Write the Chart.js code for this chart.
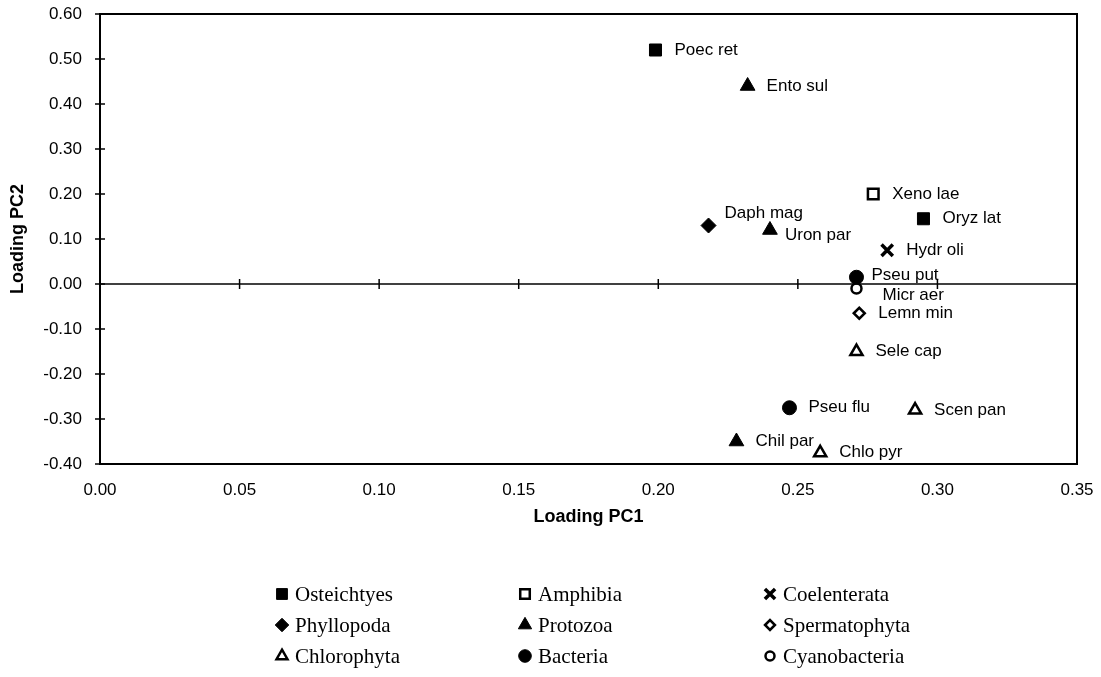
<!DOCTYPE html>
<html>
<head>
<meta charset="utf-8">
<script src="https://cdn.jsdelivr.net/npm/chart.js@4.4.1/dist/chart.umd.min.js"></script>
<style>
  body { margin: 0; background: #fff; }
  #wrap { width: 1101px; height: 677px; }
</style>
</head>
<body>
<div id="wrap"><canvas id="pcaChart" width="1101" height="677"></canvas></div>
<script>
// loadings, one entry per species
const species = ['Poec ret', 'Ento sul', 'Xeno lae', 'Oryz lat', 'Daph mag', 'Uron par', 'Hydr oli', 'Pseu put',
                 'Micr aer', 'Lemn min', 'Sele cap', 'Pseu flu', 'Scen pan', 'Chil par', 'Chlo pyr'];
const pc1 = [0.199, 0.232, 0.277, 0.295, 0.218, 0.240, 0.282, 0.271,
             0.271, 0.272, 0.271, 0.247, 0.292, 0.228, 0.258];
const pc2 = [0.52, 0.44, 0.20, 0.145, 0.13, 0.12, 0.075, 0.015,
             -0.01, -0.065, -0.15, -0.275, -0.28, -0.35, -0.375];
const taxon = ['Osteichtyes', 'Protozoa', 'Amphibia', 'Osteichtyes', 'Phyllopoda', 'Protozoa', 'Coelenterata', 'Bacteria',
               'Cyanobacteria', 'Spermatophyta', 'Chlorophyta', 'Bacteria', 'Chlorophyta', 'Protozoa', 'Chlorophyta'];

// legend order, three columns read row by row
const groups = ['Osteichtyes', 'Amphibia', 'Coelenterata',
                'Phyllopoda', 'Protozoa', 'Spermatophyta',
                'Chlorophyta', 'Bacteria', 'Cyanobacteria'];

const xMin = 0, xMax = 0.35, xStep = 0.05;
const yMin = -0.4, yMax = 0.6, yStep = 0.1;

// marker look per group
const markers = {
    Osteichtyes:   { style: 'rect',     radius: 8.5, fill: '#000', width: 1 },
    Amphibia:      { style: 'rect',     radius: 7.5, fill: '#fff', width: 2.5 },
    Coelenterata:  { style: 'crossRot', radius: 8,   fill: '#000', width: 3.5 },
    Phyllopoda:    { style: 'rectRot',  radius: 7.5, fill: '#000', width: 1 },
    Protozoa:      { style: 'triangle', radius: 8.5, fill: '#000', width: 1 },
    Spermatophyta: { style: 'rectRot',  radius: 5.5, fill: '#fff', width: 2.5 },
    Chlorophyta:   { style: 'triangle', radius: 7,   fill: '#fff', width: 2.5 },
    Bacteria:      { style: 'circle',   radius: 7,   fill: '#000', width: 1 },
    Cyanobacteria: { style: 'circle',   radius: 5,   fill: '#fff', width: 2.5 }
};

// small label nudges where the original moved a label off its point
const labelNudge = {
    'Daph mag': [-3, -12],
    'Uron par': [-4, 5],
    'Pseu put': [-4, -2],
    'Micr aer': [7, 7]
};

const sans = '"Liberation Sans", Arial, Helvetica, sans-serif';
const serif = '"Liberation Serif", "Times New Roman", serif';

function buildDatasets() {
    return groups.map(g => {
        const idx = species.map((s, i) => i).filter(i => taxon[i] === g);
        const m = markers[g];
        return {
            label: g,
            data: idx.map(i => ({ x: pc1[i], y: pc2[i] })),
            names: idx.map(i => species[i]),
            pointStyle: m.style,
            pointRadius: m.radius,
            pointHoverRadius: m.radius,
            backgroundColor: m.fill,
            borderColor: '#000',
            borderWidth: m.width,
            showLine: false
        };
    });
}

function line(ctx, x1, y1, x2, y2) {
    ctx.beginPath();
    ctx.moveTo(x1, y1);
    ctx.lineTo(x2, y2);
    ctx.stroke();
}

// box round the plot, crossing ticks on the left axis, zero line with its own ticks
const frameAndZero = {
    id: 'frameAndZero',
    beforeDatasetsDraw(chart) {
        const { ctx, chartArea: a, scales: { x, y } } = chart;
        ctx.save();
        ctx.strokeStyle = '#000';
        ctx.lineWidth = 2;
        ctx.strokeRect(a.left, a.top, a.right - a.left, a.bottom - a.top);
        ctx.lineWidth = 1.5;
        y.ticks.forEach(t => {
            const py = y.getPixelForValue(t.value);
            line(ctx, a.left - 5, py, a.left + 5, py);
        });
        const y0 = y.getPixelForValue(0);
        line(ctx, a.left, y0, a.right, y0);
        x.ticks.forEach(t => {
            if (t.value > xMin + 1e-9 && t.value < xMax - 1e-9) {
                const px = x.getPixelForValue(t.value);
                line(ctx, px, y0 - 5, px, y0 + 5);
            }
        });
        ctx.restore();
    }
};

// species names next to their points
const pointLabels = {
    id: 'pointLabels',
    afterDatasetsDraw(chart) {
        const ctx = chart.ctx;
        ctx.save();
        ctx.font = '17px ' + sans;
        ctx.fillStyle = '#000';
        ctx.textBaseline = 'middle';
        chart.data.datasets.forEach((ds, i) => {
            chart.getDatasetMeta(i).data.forEach((pt, j) => {
                const name = ds.names[j];
                const nudge = labelNudge[name] || [0, 0];
                ctx.fillText(name, pt.x + 19 + nudge[0], pt.y + nudge[1]);
            });
        });
        ctx.restore();
    }
};

// legend under the plot: 3 x 3 grid in a serif face
const groupLegend = {
    id: 'groupLegend',
    afterDraw(chart) {
        const ctx = chart.ctx;
        const cols = [282, 525, 770];
        const top = 594, gap = 31;
        ctx.save();
        ctx.font = '21px ' + serif;
        ctx.textBaseline = 'middle';
        chart.data.datasets.forEach((ds, i) => {
            const mx = cols[i % 3];
            const my = top + Math.floor(i / 3) * gap;
            ctx.fillStyle = ds.backgroundColor;
            ctx.strokeStyle = ds.borderColor;
            ctx.lineWidth = ds.borderWidth;
            Chart.helpers.drawPoint(ctx, {
                pointStyle: ds.pointStyle,
                radius: ds.pointRadius * 0.9,
                borderWidth: ds.borderWidth,
                rotation: 0
            }, mx, my);
            ctx.fillStyle = '#000';
            ctx.fillText(ds.label, mx + 13, my + 1);
        });
        ctx.restore();
    }
};

// invisible tick marks give the label gap without the ticks.padding that
// Chart.js also adds round the plot area
const hiddenTicks = { display: true, drawOnChartArea: false, drawTicks: true, color: 'rgba(0,0,0,0)' };

new Chart(document.getElementById('pcaChart'), {
    type: 'scatter',
    data: { datasets: buildDatasets() },
    options: {
        responsive: false,
        animation: false,
        layout: { padding: { top: 14, right: 24, bottom: 149, left: 0 } },
        plugins: {
            legend: { display: false },
            tooltip: { enabled: false }
        },
        scales: {
            x: {
                type: 'linear',
                min: xMin,
                max: xMax,
                grid: Object.assign({ tickLength: 12 }, hiddenTicks),
                border: { display: false },
                ticks: {
                    stepSize: xStep,
                    padding: 4,
                    color: '#000',
                    font: { family: sans, size: 17 },
                    callback: v => v.toFixed(2)
                },
                title: {
                    display: true,
                    text: 'Loading PC1',
                    color: '#000',
                    font: { family: sans, size: 18, weight: 'bold' },
                    padding: 0
                },
                afterFit(scale) { scale.height = 64; }
            },
            y: {
                type: 'linear',
                min: yMin,
                max: yMax,
                grid: Object.assign({ tickLength: 15 }, hiddenTicks),
                border: { display: false },
                ticks: {
                    stepSize: yStep,
                    padding: 3,
                    color: '#000',
                    font: { family: sans, size: 17 },
                    callback: v => v.toFixed(2)
                },
                title: {
                    display: true,
                    text: 'Loading PC2',
                    color: '#000',
                    font: { family: sans, size: 18, weight: 'bold' },
                    padding: { top: 7, bottom: 0 }
                },
                afterFit(scale) { scale.width = 100; }
            }
        }
    },
    plugins: [frameAndZero, pointLabels, groupLegend]
});
</script>
</body>
</html>
